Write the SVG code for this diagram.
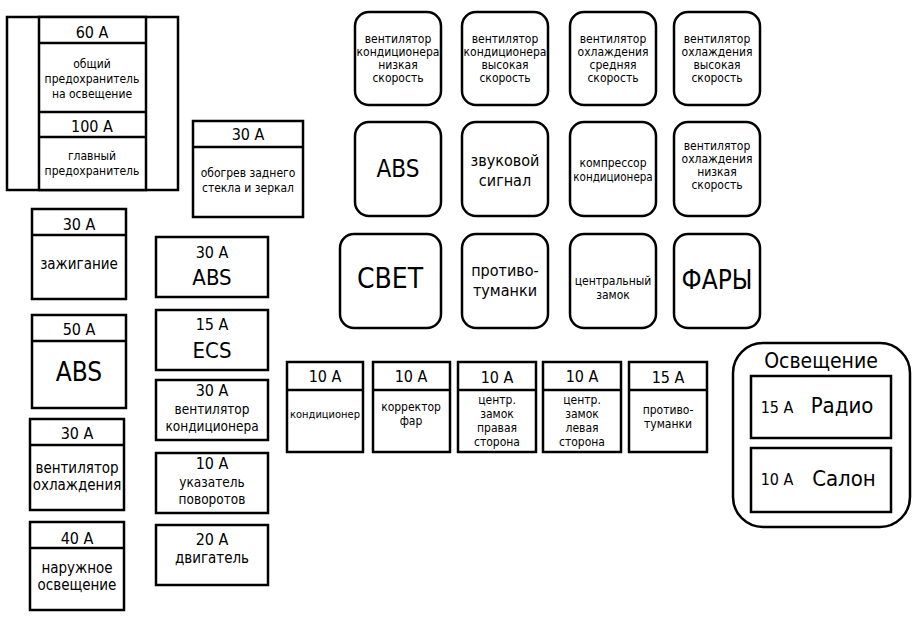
<svg xmlns="http://www.w3.org/2000/svg" width="917" height="622" viewBox="0 0 917 622">
<style>
rect{fill:#fff;stroke:#000;stroke-width:2.5}
line{stroke:#000;stroke-width:2.5}
text{font-family:"DejaVu Sans Condensed","Liberation Sans",sans-serif;text-anchor:middle;fill:#000}
.a{font-size:16px}.s{font-size:12px}.m{font-size:15px}.n{font-size:13.5px}.b{font-size:22px}.x{font-size:28px}
</style>
<rect x="0" y="0" width="917" height="622" style="stroke:none"/>
<g id="main">
<rect x="7" y="17" width="171" height="173"/><rect x="39" y="17" width="107" height="173"/>
<line x1="39" y1="43" x2="146" y2="43"/><line x1="39" y1="112" x2="146" y2="112"/><line x1="39" y1="137" x2="146" y2="137"/>
<text class="a" x="92" y="38">60 A</text>
<text class="s" x="92" y="68">общий</text><text class="s" x="92" y="83">предохранитель</text><text class="s" x="92" y="98">на освещение</text>
<text class="a" x="92" y="132">100 A</text>
<text class="s" x="92" y="160">главный</text><text class="s" x="92" y="175">предохранитель</text>
</g>
<g id="obogrev"><rect x="193" y="121" width="110" height="96"/><line x1="193" y1="147" x2="303" y2="147"/>
<text class="a" x="248" y="140">30 A</text><text class="s" x="248" y="177">обогрев заднего</text><text class="s" x="248" y="192">стекла и зеркал</text></g>
<g id="zazh"><rect x="32" y="209" width="94" height="90"/><line x1="32" y1="235" x2="126" y2="235"/>
<text class="a" x="79" y="230">30 A</text><text class="m" x="79" y="269">зажигание</text></g>
<g id="abs50"><rect x="32" y="315" width="94" height="93"/><line x1="32" y1="341" x2="126" y2="341"/>
<text class="a" x="79" y="335">50 A</text><text x="79" y="381" style="font-size:26px">ABS</text></g>
<g id="vent30"><rect x="30" y="419" width="94" height="91"/><line x1="30" y1="445" x2="124" y2="445"/>
<text class="a" x="77" y="439">30 A</text><text class="m" x="77" y="473">вентилятор</text><text class="m" x="77" y="490">охлаждения</text></g>
<g id="nar40"><rect x="30" y="522" width="94" height="88"/><line x1="30" y1="548" x2="124" y2="548"/>
<text class="a" x="77" y="544">40 A</text><text class="m" x="77" y="573">наружное</text><text class="m" x="77" y="590">освещение</text></g>
<g id="abs30"><rect x="156" y="237" width="112" height="60"/><text class="a" x="212" y="258">30 A</text><text class="b" x="212" y="285">ABS</text></g>
<g id="ecs"><rect x="156" y="310" width="112" height="60"/><text class="a" x="212" y="330">15 A</text><text class="b" x="212" y="358">ECS</text></g>
<g id="ventk"><rect x="156" y="380" width="112" height="60"/><text class="a" x="212" y="396">30 A</text><text class="n" x="212" y="414">вентилятор</text><text class="n" x="212" y="431">кондиционера</text></g>
<g id="ukaz"><rect x="156" y="453" width="112" height="60"/><text class="a" x="212" y="469">10 A</text><text class="n" x="212" y="487">указатель</text><text class="n" x="212" y="504">поворотов</text></g>
<g id="dvig"><rect x="156" y="525" width="112" height="60"/><text class="a" x="212" y="545">20 A</text><text class="m" x="212" y="563">двигатель</text></g>
<g id="r1"><rect x="287" y="362" width="76" height="90"/><line x1="287" y1="390" x2="363" y2="390"/><text class="a" x="325" y="382">10 A</text><text x="325" y="418" style="font-size:11px">кондиционер</text></g>
<g id="r2"><rect x="373" y="362" width="77" height="90"/><line x1="373" y1="390" x2="450" y2="390"/><text class="a" x="411" y="382">10 A</text><text class="s" x="411" y="411">корректор</text><text class="s" x="411" y="425">фар</text></g>
<g id="r3"><rect x="458" y="362" width="78" height="90"/><line x1="458" y1="390" x2="536" y2="390"/><text class="a" x="497" y="383">10 A</text><text class="s" x="497" y="404">центр.</text><text class="s" x="497" y="418">замок</text><text class="s" x="497" y="432">правая</text><text class="s" x="497" y="446">сторона</text></g>
<g id="r4"><rect x="543" y="362" width="78" height="90"/><line x1="543" y1="390" x2="621" y2="390"/><text class="a" x="582" y="382">10 A</text><text class="s" x="582" y="404">центр.</text><text class="s" x="582" y="418">замок</text><text class="s" x="582" y="432">левая</text><text class="s" x="582" y="446">сторона</text></g>
<g id="r5"><rect x="629" y="362" width="78" height="90"/><line x1="629" y1="390" x2="707" y2="390"/><text class="a" x="668" y="383">15 A</text><text class="s" x="668" y="414">противо-</text><text class="s" x="668" y="428">туманки</text></g>
<g id="osv"><rect x="733" y="343" width="177" height="184" rx="30"/><text x="821" y="368" style="font-size:21px">Освещение</text>
<rect x="751" y="376" width="140" height="62"/><text class="a" x="777" y="413">15 A</text><text x="842" y="413" style="font-size:22px">Радио</text>
<rect x="751" y="448" width="140" height="64"/><text class="a" x="777" y="485">10 A</text><text x="844" y="486" style="font-size:22px">Салон</text></g>
<g id="t1"><rect x="355" y="12" width="86" height="93" rx="14"/><text class="s" x="398" y="43">вентилятор</text><text class="s" x="398" y="56">кондиционера</text><text class="s" x="398" y="69">низкая</text><text class="s" x="398" y="82">скорость</text></g>
<g id="t2"><rect x="462" y="12" width="86" height="93" rx="14"/><text class="s" x="505" y="43">вентилятор</text><text class="s" x="505" y="56">кондиционера</text><text class="s" x="505" y="69">высокая</text><text class="s" x="505" y="82">скорость</text></g>
<g id="t3"><rect x="570" y="12" width="86" height="93" rx="14"/><text class="s" x="613" y="43">вентилятор</text><text class="s" x="613" y="56">охлаждения</text><text class="s" x="613" y="69">средняя</text><text class="s" x="613" y="82">скорость</text></g>
<g id="t4"><rect x="674" y="12" width="86" height="93" rx="14"/><text class="s" x="717" y="43">вентилятор</text><text class="s" x="717" y="56">охлаждения</text><text class="s" x="717" y="69">высокая</text><text class="s" x="717" y="82">скорость</text></g>
<g id="m1"><rect x="355" y="122" width="86" height="94" rx="14"/><text x="398" y="177" style="font-size:24px">ABS</text></g>
<g id="m2"><rect x="462" y="122" width="86" height="94" rx="14"/><text class="a" x="505" y="166">звуковой</text><text class="a" x="505" y="186">сигнал</text></g>
<g id="m3"><rect x="570" y="122" width="86" height="94" rx="14"/><text class="s" x="613" y="167">компрессор</text><text x="613" y="181" style="font-size:11.5px">кондиционера</text></g>
<g id="m4"><rect x="674" y="122" width="86" height="94" rx="14"/><text class="s" x="717" y="150">вентилятор</text><text class="s" x="717" y="163">охлаждения</text><text class="s" x="717" y="176">низкая</text><text class="s" x="717" y="189">скорость</text></g>
<g id="b1"><rect x="340" y="234" width="101" height="94" rx="14"/><text x="390" y="288" style="font-size:28px">СВЕТ</text></g>
<g id="b2"><rect x="462" y="234" width="86" height="94" rx="14"/><text class="a" x="505" y="276">противо-</text><text class="a" x="505" y="296">туманки</text></g>
<g id="b3"><rect x="570" y="234" width="86" height="94" rx="14"/><text class="s" x="613" y="285">центральный</text><text class="s" x="613" y="299">замок</text></g>
<g id="b4"><rect x="674" y="234" width="86" height="94" rx="14"/><text x="717" y="289" style="font-size:26px">ФАРЫ</text></g>
<g id="connectors"/>
</svg>
